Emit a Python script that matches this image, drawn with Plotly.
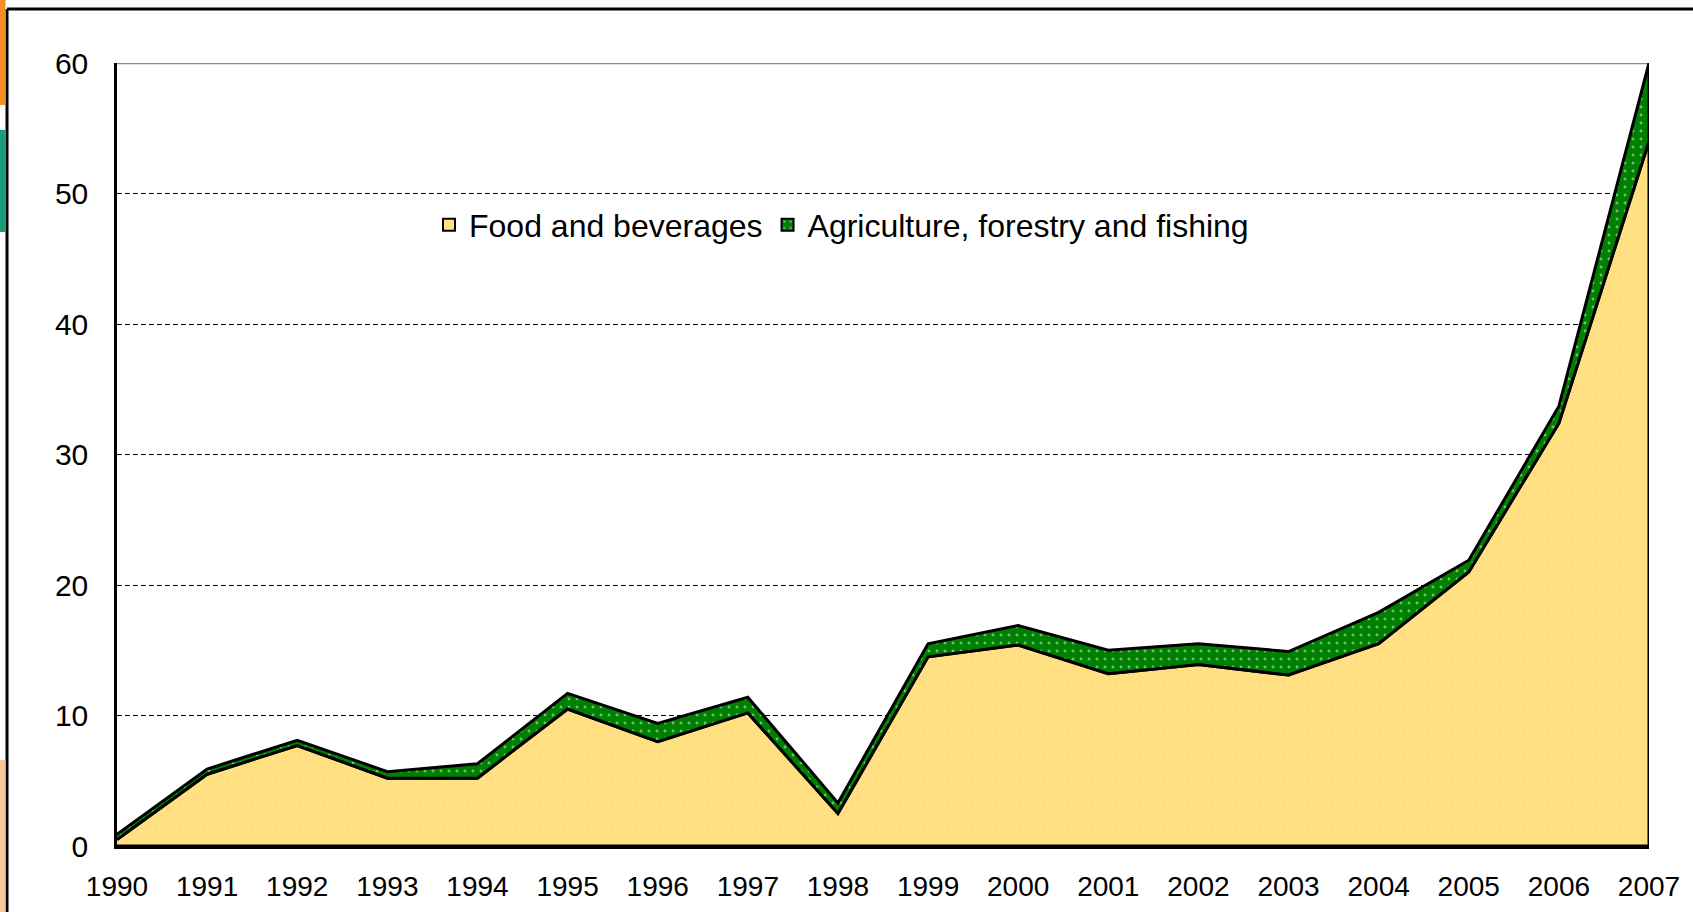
import plotly.graph_objects as go

years = list(range(1990, 2008))
food = [0.5, 5.5, 7.7, 5.2, 5.2, 10.5, 8.0, 10.2, 2.5, 14.5, 15.4, 13.2, 13.9, 13.1, 15.5, 21.0, 32.4, 54.0]
agri = [0.4, 0.4, 0.4, 0.5, 1.1, 1.2, 1.4, 1.2, 0.8, 1.0, 1.5, 1.8, 1.6, 1.8, 2.4, 0.9, 1.3, 6.0]
y_ticks = [0, 10, 20, 30, 40, 50, 60]
series_names = ["Food and beverages", "Agriculture, forestry and fishing"]

total = [f + a for f, a in zip(food, agri)]

W, H = 1693, 912
L, R, T, B = 117, 1649, 63, 846

FOOD_PATTERN = dict(shape=".", fgcolor="#FFC000", bgcolor="white", size=6, solidity=0.9)
AGRI_PATTERN = dict(shape=".", fgcolor="#E8F6E8", bgcolor="#008000", size=8, solidity=0.1)


def px(x):
    return (x - L) / (R - L)


def py(y):
    return (B - y) / (B - T)


fig = go.Figure()

# Food and beverages: closed polygon down to zero
fig.add_trace(go.Scatter(
    x=years + [years[-1], years[0]],
    y=food + [0, 0],
    mode="lines",
    fill="toself",
    name=series_names[0],
    showlegend=False,
    line=dict(color="black", width=3),
    fillcolor="white",
    fillpattern=FOOD_PATTERN,
    hoverinfo="skip",
))

# Agriculture, forestry and fishing: band between food and total
fig.add_trace(go.Scatter(
    x=years + years[::-1],
    y=total + food[::-1],
    mode="lines",
    fill="toself",
    name=series_names[1],
    showlegend=False,
    line=dict(color="black", width=3),
    fillcolor="#008000",
    fillpattern=AGRI_PATTERN,
    hoverinfo="skip",
))

# Legend entries (square patterned swatches)
fig.add_trace(go.Bar(
    x=[None], y=[None], name=series_names[0],
    marker=dict(color="white", line=dict(color="black", width=2), pattern=FOOD_PATTERN),
    hoverinfo="skip",
))
fig.add_trace(go.Bar(
    x=[None], y=[None], name=series_names[1],
    marker=dict(color="#008000", line=dict(color="black", width=2), pattern=AGRI_PATTERN),
    hoverinfo="skip",
))

shapes = [
    # top border of plot area (gray)
    dict(type="line", xref="paper", yref="y", x0=0, x1=1, y0=60, y1=60,
         line=dict(color="#8C8C8C", width=2.5), layer="below"),
    # slide frame (top and left)
    dict(type="line", xref="paper", yref="paper", x0=px(7), x1=px(W + 5), y0=py(9), y1=py(9),
         line=dict(color="black", width=3)),
    dict(type="line", xref="paper", yref="paper", x0=px(7), x1=px(7), y0=py(9), y1=py(H + 5),
         line=dict(color="black", width=3)),
    # left edge decorations
    dict(type="rect", xref="paper", yref="paper", x0=px(-1), x1=px(5.5), y0=py(-1), y1=py(105),
         line=dict(width=0), fillcolor="#F39021"),
    dict(type="rect", xref="paper", yref="paper", x0=px(-1), x1=px(5.5), y0=py(130), y1=py(232),
         line=dict(width=0), fillcolor="#1A9A7A"),
    dict(type="rect", xref="paper", yref="paper", x0=px(-1), x1=px(5.5), y0=py(760), y1=py(913),
         line=dict(width=0), fillcolor="#F6C89A"),
]

fig.update_layout(
    width=W, height=H,
    margin=dict(l=L, r=W - R, t=T, b=H - B, pad=0, autoexpand=False),
    paper_bgcolor="white",
    plot_bgcolor="white",
    font=dict(family="Liberation Sans, Arial, sans-serif", size=28, color="black"),
    showlegend=True,
    legend=dict(
        orientation="h",
        x=px(429), xanchor="left",
        y=py(225), yanchor="middle",
        bgcolor="rgba(0,0,0,0)",
        font=dict(family="Liberation Sans, Arial, sans-serif", size=32),
        itemwidth=30,
        traceorder="normal",
    ),
    shapes=shapes,
    xaxis=dict(
        range=[1990, 2007],
        tickmode="array",
        tickvals=years,
        ticktext=[str(y) for y in years],
        tickfont=dict(size=28),
        showgrid=False,
        zeroline=False,
        showline=True,
        linecolor="black",
        linewidth=2.5,
        ticks="",
        ticklabelstandoff=14,
        automargin=False,
        fixedrange=True,
    ),
    yaxis=dict(
        range=[0, 60],
        tickmode="array",
        tickvals=y_ticks,
        ticktext=[str(v) for v in y_ticks],
        tickfont=dict(size=30),
        showgrid=True,
        gridcolor="black",
        gridwidth=1.3,
        griddash="5px,3px",
        zeroline=False,
        showline=True,
        linecolor="black",
        linewidth=2.5,
        ticks="",
        ticklabelstandoff=20,
        automargin=False,
        fixedrange=True,
    ),
)

fig.write_html(
    "out.html",
    config={"displayModeBar": False},
    post_script="document.body.style.margin='0';document.body.style.overflow='hidden';",
)
